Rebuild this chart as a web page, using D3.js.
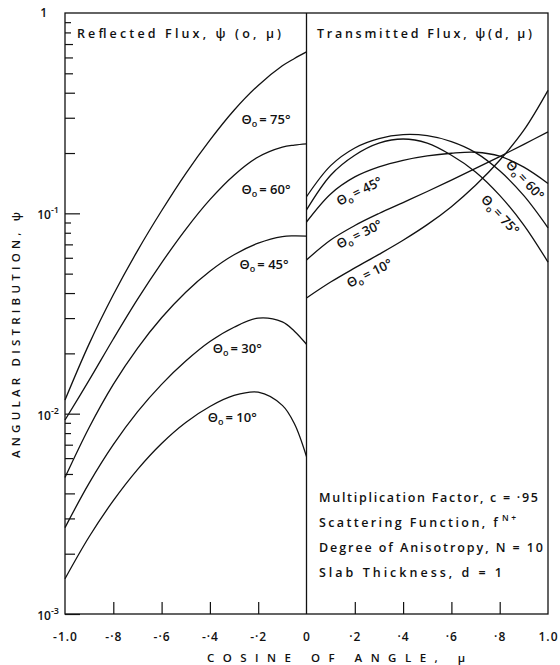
<!DOCTYPE html>
<html>
<head>
<meta charset="utf-8">
<script src="https://cdn.jsdelivr.net/npm/d3@7"></script>
<style>
  html, body { margin: 0; padding: 0; background: #fff; }
  svg text { font-family: "Open Sans", "DejaVu Sans", sans-serif; font-weight: 600; fill: #111; }
</style>
</head>
<body>
<svg id="chart" width="560" height="665"></svg>
<script>
// Cosine of angle, reflected half (mu < 0) and transmitted half (mu > 0)
const muReflected = [-1, -0.9, -0.8, -0.7, -0.6, -0.5, -0.4, -0.3, -0.2, -0.1, -0.05, 0];
const muTransmitted = [0, 0.1, 0.2, 0.3, 0.4, 0.5, 0.6, 0.7, 0.8, 0.9, 1.0];

// Reflected flux psi(0, mu) for each incidence angle
const reflected75 = [0.0117, 0.0223, 0.0392, 0.065, 0.103, 0.158, 0.232, 0.327, 0.435, 0.545, 0.593, 0.64];
const reflected60 = [0.0093, 0.0147, 0.0236, 0.0372, 0.0566, 0.0832, 0.117, 0.155, 0.191, 0.214, 0.219, 0.222];
const reflected45 = [0.0048, 0.00853, 0.0140, 0.0212, 0.0301, 0.0404, 0.0514, 0.0621, 0.0710, 0.0766, 0.0771, 0.0769];
const reflected30 = [0.0027, 0.0045, 0.0070, 0.0102, 0.0140, 0.0183, 0.0229, 0.0270, 0.0300, 0.0287, 0.0258, 0.0222];
const reflected10 = [0.0015, 0.00243, 0.00368, 0.00526, 0.0071, 0.00904, 0.01086, 0.01233, 0.0128, 0.0110, 0.0089, 0.0061];

// Transmitted flux psi(d, mu) for each incidence angle
const transmitted10 = [0.0378, 0.0454, 0.0534, 0.0624, 0.0734, 0.0878, 0.108, 0.138, 0.184, 0.260, 0.411];
const transmitted30 = [0.0585, 0.0736, 0.0869, 0.0998, 0.1132, 0.1285, 0.1466, 0.1675, 0.192, 0.221, 0.255];
const transmitted45 = [0.0905, 0.125, 0.152, 0.1706, 0.184, 0.1936, 0.1995, 0.2018, 0.193, 0.170, 0.141];
const transmitted60 = [0.121, 0.173, 0.212, 0.236, 0.247, 0.244, 0.228, 0.201, 0.163, 0.1225, 0.0847];
const transmitted75 = [0.104, 0.155, 0.195, 0.224, 0.235, 0.224, 0.195, 0.161, 0.123, 0.0874, 0.0571];

// Tick labels
const xTickValues = [-1, -0.8, -0.6, -0.4, -0.2, 0, 0.2, 0.4, 0.6, 0.8, 1];
const xTickLabels = ["-1.0", "-·8", "-·6", "-·4", "-·2", "0", "·2", "·4", "·6", "·8", "1.0"];
const yDecades = [1e-3, 1e-2, 1e-1, 1];
const yDecadeExponents = ["-3", "-2", "-1", ""];

// Curve labels: angle text, anchor (mu, psi), rotation
const labelAngles = ["75°", "60°", "45°", "30°", "10°", "45°", "30°", "10°", "60°", "75°"];
const labelMu = [-0.269, -0.269, -0.277, -0.388, -0.409, 0.136, 0.136, 0.178, 0.822, 0.719];
const labelPsi = [0.279, 0.125, 0.0527, 0.0201, 0.00908, 0.1088, 0.0664, 0.0424, 0.174, 0.1165];
const labelRotation = [0, 0, 0, 0, 0, -26, -26, -26, 47, 47];

// Parameter block
const noteLines = ["Multiplication Factor, c = ·95", "Scattering Function, f", "Degree of Anisotropy, N = 10", "Slab Thickness, d = 1"];

const svg = d3.select("#chart");
const x = d3.scaleLinear().domain([-1, 1]).range([65, 548]);
const y = d3.scaleLog().domain([1e-3, 1]).range([614, 13]);
const ink = "#111";

// Plot frame and the mu = 0 divider
svg.append("rect")
  .attr("x", x(-1)).attr("y", y(1))
  .attr("width", x(1) - x(-1)).attr("height", y(1e-3) - y(1))
  .attr("fill", "none").attr("stroke", ink).attr("stroke-width", 1.3);
svg.append("line")
  .attr("x1", x(0)).attr("x2", x(0)).attr("y1", y(1)).attr("y2", y(1e-3))
  .attr("stroke", ink).attr("stroke-width", 1.3);

// Log ticks on the left axis, pointing inward
const yTicks = [];
yDecades.slice(0, 3).forEach(d => { for (let k = 1; k <= 9; k++) yTicks.push(k * d); });
const tickLen = v => {
  const k = Math.round(v / Math.pow(10, Math.floor(Math.log10(v) + 1e-9)));
  if (k === 1) return 15;
  if (k <= 4) return 10;
  if (k <= 7) return 8;
  return 6;
};
const yAxis = svg.append("g").attr("transform", `translate(${x(-1)},0)`)
  .call(d3.axisRight(y).tickValues(yTicks).tickFormat("").tickSizeOuter(0));
yAxis.select(".domain").remove();
yAxis.selectAll(".tick line").attr("x2", d => tickLen(d)).attr("stroke", ink).attr("stroke-width", 1.2);

// Decade labels
yDecades.forEach((d, i) => {
  const t = svg.append("text").attr("text-anchor", "end").attr("font-size", 12);
  if (yDecadeExponents[i] === "") {
    t.attr("x", 47).attr("y", y(d) + 4).text("1");
  } else {
    t.attr("x", 59).attr("y", y(d) + 6);
    t.append("tspan").text("10");
    t.append("tspan").attr("font-size", 9).attr("dy", -6).text(yDecadeExponents[i]);
  }
});

// Bottom ticks pointing up into each half
const xAxis = svg.append("g").attr("transform", `translate(0,${y(1e-3)})`)
  .call(d3.axisTop(x).tickValues([-0.8, -0.6, -0.4, -0.2, 0.2, 0.4, 0.6, 0.8]).tickSize(12).tickFormat(""));
xAxis.select(".domain").remove();
xAxis.selectAll(".tick line").attr("stroke", ink).attr("stroke-width", 1.2);

const xLabels = svg.append("g").attr("transform", `translate(0,${y(1e-3)})`)
  .call(d3.axisBottom(x).tickValues(xTickValues).tickSize(0).tickPadding(18)
    .tickFormat((d, i) => xTickLabels[i]));
xLabels.select(".domain").remove();
xLabels.selectAll("text").attr("font-size", 12).attr("letter-spacing", 1)
  .attr("font-family", '"Open Sans", "DejaVu Sans", sans-serif').attr("fill", ink);

// Axis titles
svg.append("text").attr("x", 207).attr("y", 662).attr("font-size", 11.5)
  .attr("textLength", 258).attr("lengthAdjust", "spacing").text("COSINE OF ANGLE, μ");
svg.append("text").attr("transform", "translate(20,458) rotate(-90)").attr("font-size", 11.5)
  .attr("textLength", 246).attr("lengthAdjust", "spacing").text("ANGULAR DISTRIBUTION, ψ");

// Panel titles
svg.append("text").attr("x", 77).attr("y", 38).attr("font-size", 12.5)
  .attr("textLength", 204).attr("lengthAdjust", "spacing").text("Reflected Flux, ψ (o, μ)");
svg.append("text").attr("x", 317).attr("y", 38).attr("font-size", 12.5)
  .attr("textLength", 215).attr("lengthAdjust", "spacing").text("Transmitted Flux, ψ(d, μ)");

// Curves
const line = d3.line().x(d => x(d[0])).y(d => y(d[1])).curve(d3.curveCatmullRom.alpha(0.5));
const reflectedSeries = [reflected75, reflected60, reflected45, reflected30, reflected10];
const transmittedSeries = [transmitted10, transmitted30, transmitted45, transmitted60, transmitted75];
const curves = svg.append("g").attr("fill", "none").attr("stroke", ink).attr("stroke-width", 1.3);
reflectedSeries.forEach(s => curves.append("path").attr("d", line(d3.zip(muReflected, s))));
transmittedSeries.forEach(s => curves.append("path").attr("d", line(d3.zip(muTransmitted, s))));

// Curve labels
labelAngles.forEach((a, i) => {
  const t = svg.append("text")
    .attr("transform", `translate(${x(labelMu[i])},${y(labelPsi[i])}) rotate(${labelRotation[i]})`)
    .attr("font-size", 13);
  t.append("tspan").text("Θ");
  t.append("tspan").attr("font-size", 9).attr("dy", 3).text("o");
  t.append("tspan").attr("dy", -3).attr("dx", 2).text("= " + a);
});

// Parameter block
const noteY = [502, 527, 552, 577];
const noteLen = [219, 197, 224, 183];
noteLines.forEach((s, i) => {
  const t = svg.append("text").attr("x", 319).attr("y", noteY[i]).attr("font-size", 12.5)
    .attr("textLength", noteLen[i]).attr("lengthAdjust", "spacing");
  t.append("tspan").text(s);
  if (i === 1) {
    t.append("tspan").attr("font-size", 8.5).attr("dy", -6).attr("dx", 2).text("N+");
  }
});
</script>
</body>
</html>
